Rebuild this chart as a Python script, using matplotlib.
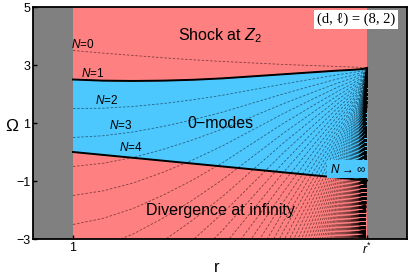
import numpy as np
import matplotlib
matplotlib.use('Agg')
import matplotlib.pyplot as plt

plt.rcParams['font.family'] = ['Liberation Sans', 'DejaVu Sans']
plt.rcParams['mathtext.fontset'] = 'custom'
plt.rcParams['mathtext.rm'] = 'Liberation Sans'
plt.rcParams['mathtext.it'] = 'Liberation Sans:italic'

# data
r_star = 8.35
r_grid = [1.0, 1.75, 2.5, 3.25, 4.0, 4.75, 5.5, 6.25, 7.0, 7.6, 7.95, 8.15, 8.25, 8.3, 8.33, 8.35]
top_curve = [3.5, 3.41, 3.33, 3.25, 3.18, 3.12, 3.07, 3.02, 2.98, 2.95, 2.93, 2.92, 2.91, 2.905, 2.9, 2.9]
mode_spacing = [1.0, 0.95, 0.88, 0.79, 0.69, 0.58, 0.46, 0.34, 0.23, 0.145, 0.10, 0.07, 0.045, 0.025, 0.01, 0.0]
modes = np.arange(0, 301)
lower_r = [1.0, r_star]
lower_omega = [0.0, -0.98]
labelled_modes = [0, 1, 2, 3, 4]

red = '#ff8080'
blue = '#4dc8ff'
gray = '#808080'

r_grid = np.array(r_grid)
top_curve = np.array(top_curve)
mode_spacing = np.array(mode_spacing)

fig = plt.figure(figsize=(4.09, 2.78), dpi=100)
ax = fig.add_axes([33 / 409, 1 - 239 / 278, 374 / 409, 232 / 278])
ax.set_facecolor(gray)
ax.set_xlim(0, r_star + 1)
ax.set_ylim(-3, 5)

# regions
ax.fill_between([1.0, r_star], -3, 5, color=red, lw=0, zorder=1)
upper = top_curve - mode_spacing
lower = np.interp(r_grid, lower_r, lower_omega)
ax.fill_between(r_grid, lower, upper, color=blue, lw=0, zorder=2)

# mode curves
for n in modes:
    ax.plot(r_grid, top_curve - n * mode_spacing, color='k', lw=0.6, alpha=0.5,
            ls=(0, (3, 2)), zorder=3)

# boundaries
ax.plot(r_grid, upper, color='k', lw=1.4, zorder=4)
ax.plot(lower_r, lower_omega, color='k', lw=1.4, zorder=4)

# labels
label_pos = [(1.25, 3.69), (1.5, 2.72), (1.85, 1.76), (2.18, 0.90), (2.45, 0.14)]
for n, (x, y) in zip(labelled_modes, label_pos):
    ax.text(x, y, r'$N$=%d' % n, fontsize=8.5, ha='center', va='center', zorder=5)

ax.text(r_star - 0.02, -0.59, r'$N$ → ∞', fontsize=8.5, ha='right', va='center',
        bbox=dict(facecolor=blue, edgecolor='none', pad=1.5), zorder=5)

ax.text(4.675, 4.0, r'Shock at $Z_2$', fontsize=11.5, ha='center', va='center', zorder=5)
ax.text(4.675, 1.0, '0\u2212modes', fontsize=11.5, ha='center', va='center', zorder=5)
ax.text(4.675, -2.0, 'Divergence at infinity', fontsize=11.5, ha='center', va='center', zorder=5)

ax.text(8.075, 4.57, '(d, \u2113) = (8, 2)', fontsize=10.5, family='Liberation Serif',
        ha='center', va='center', zorder=5,
        bbox=dict(facecolor='white', edgecolor='none', pad=2))

ax.set_xticks([1.0, r_star])
ax.set_xticklabels(['1', r'$r^{*}$'])
ax.set_yticks([5, 3, 1, -1, -3])
ax.set_yticklabels(['5', '3', '1', '\u22121', '\u22123'])
ax.tick_params(direction='in', length=3, width=1, labelsize=9, pad=2)

ax.set_xlabel('r', fontsize=12)
ax.set_ylabel('\u03a9', fontsize=12.5, rotation=0, va='center')
ax.xaxis.set_label_coords(0.49, -0.09)
ax.yaxis.set_label_coords(-0.058, 0.487)
for s in ax.spines.values():
    s.set_linewidth(1.3)
    s.set_zorder(6)

fig.savefig('out.png', dpi=100)
